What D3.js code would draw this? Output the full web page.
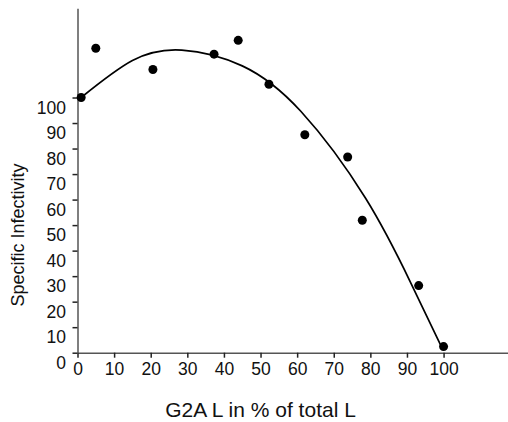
<!DOCTYPE html>
<html>
<head>
<meta charset="utf-8">
<script src="https://cdn.jsdelivr.net/npm/d3@7"></script>
<style>
  body { margin: 0; background: #fff; }
  svg { display: block; font-family: "Liberation Sans", Arial, sans-serif; }
</style>
</head>
<body>
<div id="chart"></div>
<script>
// measured points
var pctG2A = [1, 5, 20.6, 37.3, 43.9, 52.3, 62.1, 73.8, 77.8, 93.2, 100];
var infectivity = [100, 119.3, 111, 117, 122.4, 105.2, 85.4, 76.7, 51.9, 26.3, 2.4];

// fitted curve
var fitX = [1, 15, 28.5, 45, 61, 78.7, 91, 99.2];
var fitY = [100, 114.5, 118.6, 112.4, 94.6, 60.5, 27.5, 3];

var xTicks = [0, 10, 20, 30, 40, 50, 60, 70, 80, 90, 100];
var yTicks = [0, 10, 20, 30, 40, 50, 60, 70, 80, 90, 100];

var width = 508, height = 422;

var svg = d3.select('#chart')
    .append('svg')
    .attr('width', width)
    .attr('height', height);

var x = d3.scaleLinear().domain([0, 117.6]).range([77.5, 508]);
var y = d3.scaleLinear().domain([0, 135]).range([352.7, 8.2]);

var xAxis = svg.append('g')
    .attr('transform', 'translate(0,' + y(0) + ')')
    .call(d3.axisBottom(x).tickValues(xTicks).tickSize(5).tickSizeOuter(0).tickPadding(5));

var yAxis = svg.append('g')
    .attr('transform', 'translate(' + x(0) + ',0)')
    .call(d3.axisLeft(y).tickValues(yTicks).tickSize(5).tickSizeOuter(0).tickPadding(6.5));

[xAxis, yAxis].forEach(function(g) {
    g.attr('font-family', null).attr('font-size', null);
    g.select('.domain').attr('stroke', '#555').attr('stroke-width', 1.5);
    g.selectAll('.tick line').attr('stroke', '#222').attr('stroke-width', 1.5);
    g.selectAll('.tick text')
        .style('font-size', '17.5px')
        .style('fill', '#111');
});
// labels on the y axis sit a little below their ticks
yAxis.selectAll('.tick text').attr('y', 10);

var line = d3.line()
    .x(function(d) { return x(d[0]); })
    .y(function(d) { return y(d[1]); })
    .curve(d3.curveNatural);

svg.append('path')
    .datum(d3.zip(fitX, fitY))
    .attr('fill', 'none')
    .attr('stroke', '#000')
    .attr('stroke-width', 1.7)
    .attr('d', line);

svg.append('g')
    .selectAll('circle')
    .data(d3.zip(pctG2A, infectivity))
    .enter()
    .append('circle')
    .attr('cx', function(d) { return x(d[0]); })
    .attr('cy', function(d) { return y(d[1]); })
    .attr('r', 4.5)
    .attr('fill', '#000');

svg.append('text')
    .attr('transform', 'translate(24,235) rotate(-90)')
    .attr('text-anchor', 'middle')
    .style('font-size', '18px')
    .style('fill', '#111')
    .text('Specific Infectivity');

svg.append('text')
    .attr('x', 260.5)
    .attr('y', 417)
    .attr('text-anchor', 'middle')
    .style('font-size', '21px')
    .style('fill', '#111')
    .text('G2A L in % of total L');
</script>
</body>
</html>
